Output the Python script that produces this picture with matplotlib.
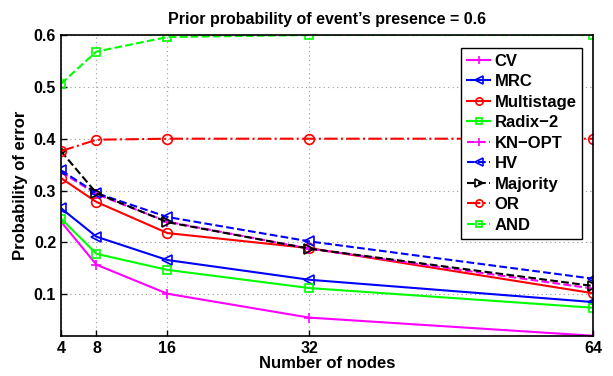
import matplotlib
matplotlib.use("Agg")
import matplotlib.pyplot as plt

plt.rcParams['font.family'] = ['Liberation Sans', 'DejaVu Sans']
plt.rcParams['font.weight'] = 'bold'

nodes = [4, 8, 16, 32, 64]
cv = [0.240, 0.157, 0.101, 0.055, 0.020]
mrc = [0.266, 0.211, 0.166, 0.128, 0.085]
multistage = [0.324, 0.278, 0.218, 0.189, 0.102]
radix2 = [0.246, 0.178, 0.147, 0.112, 0.074]
knopt = [0.336, 0.293, 0.240, 0.188, 0.111]
hv = [0.339, 0.295, 0.249, 0.202, 0.130]
majority = [0.376, 0.295, 0.239, 0.188, 0.116]
or_rule = [0.376, 0.398, 0.400, 0.400, 0.400]
and_rule = [0.506, 0.568, 0.596, 0.600, 0.600]

xticks = [4, 8, 16, 32, 64]
yticks = [0.1, 0.2, 0.3, 0.4, 0.5, 0.6]

fig = plt.figure(figsize=(6.13, 3.76), dpi=100)
ax = fig.add_axes([0.0995, 0.107, 0.868, 0.800])

lw = 1.5
ms = 7
mag, blu, red, grn = '#ff00ff', '#0000ff', '#ff0000', '#00ff00'
ax.plot(nodes, cv, '-', color=mag, marker='+', ms=ms, lw=lw, mew=1.2, label='CV')
ax.plot(nodes, mrc, '-', color=blu, marker='<', ms=ms, lw=lw, mfc='none', mew=1.2, label='MRC')
ax.plot(nodes, multistage, '-', color=red, marker='o', ms=ms, lw=lw, mfc='none', mew=1.2, label='Multistage')
ax.plot(nodes, radix2, '-', color=grn, marker='s', ms=5.5, lw=lw, mfc='none', mew=1.2, label='Radix\u22122')
ax.plot(nodes, knopt, '--', color=mag, marker='+', ms=ms, lw=lw, mew=1.2, label='KN\u2212OPT')
ax.plot(nodes, hv, '--', color=blu, marker='<', ms=ms, lw=lw, mfc='none', mew=1.2, label='HV')
ax.plot(nodes, majority, '--', color='black', marker='>', ms=ms, lw=lw, mfc='none', mew=1.2, label='Majority')
ax.plot(nodes, or_rule, '-.', color=red, marker='o', ms=ms, lw=lw, mfc='none', mew=1.2, label='OR')
ax.plot(nodes, and_rule, '--', color=grn, marker='s', ms=5.5, lw=lw, mfc='none', mew=1.2, label='AND')

ax.set_xlim(4, 64)
ax.set_ylim(0.02, 0.6)
ax.set_xticks(xticks)
ax.set_xticklabels([str(x) for x in xticks])
ax.set_yticks(yticks)
ax.set_yticklabels([f'{y:.1f}' for y in yticks])
ax.tick_params(direction='in', labelsize=11.5, length=4, width=1)
for s in ax.spines.values():
    s.set_linewidth(1.2)
ax.grid(True, linestyle=(0, (1, 3)), color='#999999', linewidth=0.8)

ax.set_xlabel('Number of nodes', fontsize=12, fontweight='bold', labelpad=0)
ax.set_ylabel('Probability of error', fontsize=12, fontweight='bold', labelpad=4)
ax.set_title('Prior probability of event\u2019s presence = 0.6', fontsize=11.5, fontweight='bold', pad=8)

leg = ax.legend(loc='upper right', bbox_to_anchor=(0.980, 0.957), fontsize=12,
                fancybox=False, framealpha=1, edgecolor='black', labelspacing=0.33,
                handlelength=1.4, handletextpad=0.25, borderpad=0.35, borderaxespad=0,
                markerscale=0.75)
leg.get_frame().set_linewidth(1.0)

fig.savefig('out.png', dpi=100)
